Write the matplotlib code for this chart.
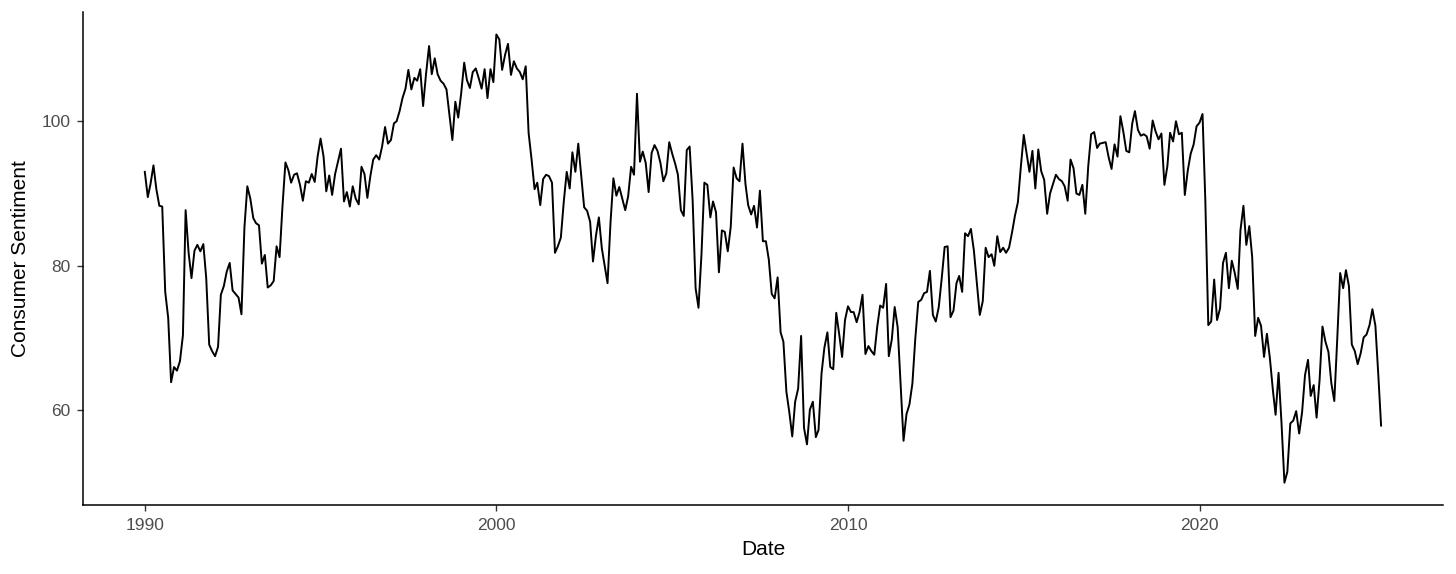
import matplotlib
matplotlib.use("Agg")
import matplotlib.pyplot as plt
import matplotlib.dates as mdates
import pandas as pd

plt.rcParams['font.family'] = ['Liberation Sans', 'DejaVu Sans']

# University of Michigan consumer sentiment, monthly from Jan 1990
start = "1990-01-01"
sentiment = [
    93.0, 89.5, 91.3, 93.9, 90.6, 88.3, 88.2, 76.4, 72.8, 63.9, 66.0, 65.5,
    66.8, 70.4, 87.7, 81.8, 78.3, 82.1, 82.9, 82.0, 83.0, 78.3, 69.1, 68.2,
    67.5, 68.8, 76.0, 77.2, 79.2, 80.4, 76.6, 76.1, 75.6, 73.3, 85.3, 91.0,
    89.3, 86.6, 85.9, 85.6, 80.3, 81.5, 77.0, 77.3, 77.9, 82.7, 81.2, 88.2,
    94.3, 93.2, 91.5, 92.6, 92.8, 91.2, 89.0, 91.7, 91.5, 92.7, 91.6, 95.1,
    97.6, 95.1, 90.3, 92.5, 89.8, 92.7, 94.4, 96.2, 88.9, 90.2, 88.2, 91.0,
    89.3, 88.5, 93.7, 92.7, 89.4, 92.4, 94.7, 95.3, 94.7, 96.5, 99.2, 96.9,
    97.4, 99.7, 100.0, 101.4, 103.2, 104.5, 107.1, 104.4, 106.0, 105.6, 107.2, 102.1,
    106.6, 110.4, 106.5, 108.7, 106.5, 105.6, 105.2, 104.4, 100.9, 97.4, 102.7, 100.5,
    103.9, 108.1, 105.7, 104.6, 106.8, 107.3, 106.0, 104.5, 107.2, 103.2, 107.2, 105.4,
    112.0, 111.3, 107.1, 109.2, 110.7, 106.4, 108.3, 107.3, 106.8, 105.8, 107.6, 98.4,
    94.7, 90.6, 91.5, 88.4, 92.0, 92.6, 92.4, 91.5, 81.8, 82.7, 83.9, 88.8,
    93.0, 90.7, 95.7, 93.0, 96.9, 92.4, 88.1, 87.6, 86.1, 80.6, 84.2, 86.7,
    82.4, 79.9, 77.6, 86.0, 92.1, 89.7, 90.9, 89.3, 87.7, 89.6, 93.7, 92.6,
    103.8, 94.4, 95.8, 94.2, 90.2, 95.6, 96.7, 95.9, 94.2, 91.7, 92.8, 97.1,
    95.5, 94.1, 92.6, 87.7, 86.9, 96.0, 96.5, 89.1, 76.9, 74.2, 81.6, 91.5,
    91.2, 86.7, 88.9, 87.4, 79.1, 84.9, 84.7, 82.0, 85.4, 93.6, 92.1, 91.7,
    96.9, 91.3, 88.4, 87.1, 88.3, 85.3, 90.4, 83.4, 83.4, 80.9, 76.1, 75.5,
    78.4, 70.8, 69.5, 62.6, 59.8, 56.4, 61.2, 63.0, 70.3, 57.6, 55.3, 60.1,
    61.2, 56.3, 57.3, 65.1, 68.7, 70.8, 66.0, 65.7, 73.5, 70.6, 67.4, 72.5,
    74.4, 73.6, 73.6, 72.2, 73.6, 76.0, 67.8, 68.9, 68.2, 67.7, 71.6, 74.5,
    74.2, 77.5, 67.5, 69.8, 74.3, 71.5, 63.7, 55.8, 59.5, 60.8, 63.7, 69.9,
    75.0, 75.3, 76.2, 76.4, 79.3, 73.2, 72.3, 74.3, 78.3, 82.6, 82.7, 72.9,
    73.8, 77.6, 78.6, 76.4, 84.5, 84.1, 85.1, 82.1, 77.5, 73.2, 75.1, 82.5,
    81.2, 81.6, 80.0, 84.1, 81.9, 82.5, 81.8, 82.5, 84.6, 86.9, 88.8, 93.6,
    98.1, 95.4, 93.0, 95.9, 90.7, 96.1, 93.1, 91.9, 87.2, 90.0, 91.3, 92.6,
    92.0, 91.7, 91.0, 89.0, 94.7, 93.5, 90.0, 89.8, 91.2, 87.2, 93.8, 98.2,
    98.5, 96.3, 96.9, 97.0, 97.1, 95.0, 93.4, 96.8, 95.1, 100.7, 98.5, 95.9,
    95.7, 99.7, 101.4, 98.8, 98.0, 98.2, 97.9, 96.2, 100.1, 98.6, 97.5, 98.3,
    91.2, 93.8, 98.4, 97.2, 100.0, 98.2, 98.4, 89.8, 93.2, 95.5, 96.8, 99.3,
    99.8, 101.0, 89.1, 71.8, 72.3, 78.1, 72.5, 74.1, 80.4, 81.8, 76.9, 80.7,
    79.0, 76.8, 84.9, 88.3, 82.9, 85.5, 81.2, 70.3, 72.8, 71.7, 67.4, 70.6,
    67.2, 62.8, 59.4, 65.2, 58.4, 50.0, 51.5, 58.2, 58.6, 59.9, 56.8, 59.7,
    64.9, 67.0, 62.0, 63.5, 59.0, 64.2, 71.6, 69.5, 68.1, 63.8, 61.3, 69.7,
    79.0, 76.9, 79.4, 77.2, 69.1, 68.2, 66.4, 67.9, 70.1, 70.5, 71.8, 74.0,
    71.7, 64.7, 57.9,
]
dates = pd.date_range(start, periods=len(sentiment), freq="MS")
tick_years = [1990, 2000, 2010, 2020]
y_ticks = [60, 80, 100]

fig = plt.figure(figsize=(14.56, 5.74), dpi=100)
ax = fig.add_axes([0.057, 0.120, 0.934, 0.859])
ax.plot(dates, sentiment, color='black', linewidth=1.4)

# ggplot-style 5% expansion
x0, x1 = mdates.date2num(dates[0]), mdates.date2num(dates[-1])
pad = (x1 - x0) * 0.05
ax.set_xlim(x0 - pad, x1 + pad)
lo, hi = min(sentiment), max(sentiment)
ax.set_ylim(lo - (hi - lo) * 0.05, hi + (hi - lo) * 0.05)

ax.set_xticks([pd.Timestamp(f"{y}-01-01") for y in tick_years])
ax.set_xticklabels([str(y) for y in tick_years])
ax.set_yticks(y_ticks)

for side in ['top', 'right']:
    ax.spines[side].set_visible(False)
for side in ['left', 'bottom']:
    ax.spines[side].set_linewidth(1.1)
ax.tick_params(axis='both', colors='#333333', labelcolor='#4D4D4D',
               labelsize=12.5, length=4, width=1.0, pad=5)

ax.set_xlabel("Date", fontsize=15, labelpad=5)
ax.set_ylabel("Consumer Sentiment", fontsize=15, labelpad=8)

fig.savefig("out.png", dpi=100)
